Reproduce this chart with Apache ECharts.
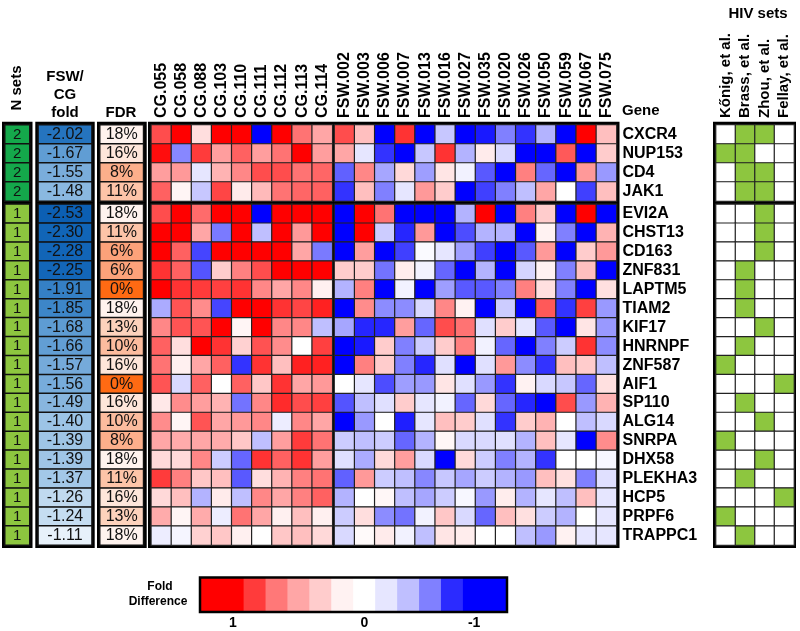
<!DOCTYPE html>
<html><head><meta charset="utf-8">
<script src="https://cdn.jsdelivr.net/npm/echarts@6/dist/echarts.min.js"></script>
<style>html,body{margin:0;padding:0;background:#fff}#c{width:800px;height:631px}</style>
</head><body><div id="c"></div>
<script>
const genes = ['CXCR4','NUP153','CD4','JAK1','EVI2A','CHST13','CD163','ZNF831','LAPTM5','TIAM2','KIF17','HNRNPF','ZNF587','AIF1','SP110','ALG14','SNRPA','DHX58','PLEKHA3','HCP5','PRPF6','TRAPPC1'];
const cgSamples = ['CG.055','CG.058','CG.088','CG.103','CG.110','CG.111','CG.112','CG.113','CG.114'];
const fswSamples = ['FSW.002','FSW.003','FSW.006','FSW.007','FSW.013','FSW.016','FSW.027','FSW.035','FSW.020','FSW.026','FSW.050','FSW.059','FSW.067','FSW.075'];
const hivStudies = ['Kőnig, et al.','Brass, et al.','Zhou, et al.','Fellay, et al.'];
const nSets = [2,2,2,2,1,1,1,1,1,1,1,1,1,1,1,1,1,1,1,1,1,1];
const foldChange = [-2.02,-1.67,-1.55,-1.48,-2.53,-2.30,-2.28,-2.25,-1.91,-1.85,-1.68,-1.66,-1.57,-1.56,-1.49,-1.40,-1.39,-1.39,-1.37,-1.26,-1.24,-1.11];
const fdrPct = [18,16,8,11,18,11,6,6,0,18,13,10,16,0,16,10,8,18,11,16,13,18];
const cgValues = [
 [0.7,1,0.13,1,1,-1,1,0.55,0.35],
 [0.95,-0.47,0.77,0.38,0.62,0.38,0.55,1,0.38],
 [0.38,0.4,-0.1,0.3,0.47,0.7,0.7,0.55,0.6],
 [0.62,0.04,-0.22,0.73,0.08,0.27,0.55,0.6,0.62],
 [0.7,1,0.58,1,1,-1,1,1,1],
 [1,1,0.35,-0.52,1,-0.25,1,0.4,1],
 [1,0.62,-0.73,1,1,1,1,0.35,-0.52],
 [0.8,0.62,-0.67,0.2,0.5,0.7,1,1,1],
 [1,0.8,0.77,0.75,0.8,0.47,0.35,0.47,0.06],
 [-0.33,0.67,0.45,-0.73,1,1,0.8,0.73,0.87],
 [0.47,0.67,0.67,1,0.04,1,0.47,0.47,-0.25],
 [0.62,0.13,1,0.8,0.18,0.68,0.45,0,0.75],
 [0.55,0.06,0.35,0.62,-0.8,0.8,0.25,0.87,0.87],
 [0.67,-0.15,0.62,0,0.62,0.22,0.8,0.35,0.4],
 [0.09,0.45,0.38,0.3,-0.55,0.47,0.83,0.7,0.75],
 [0.45,0.04,0.67,0.35,0.4,0.47,-0.07,0.47,0.35],
 [0.35,0.33,0.35,0.33,0.22,-0.25,0.38,0.77,0.55],
 [0.15,0.15,0.47,-0.2,-0.6,0.8,0.62,0.8,0.38],
 [0.77,0.5,0.22,0.25,-0.65,0.13,0.3,0.5,0.55],
 [0.15,0.25,-0.3,0.08,-0.25,0.47,0.35,0.5,0.62],
 [0.33,0.04,0.33,-0.07,0.55,0.35,0.06,0.25,0.06],
 [-0.07,-0.04,0.18,0.22,0.06,0,0.22,0.25,0.15]
];
const fswValues = [
 [0.7,0.25,-1,0.8,-1,-0.22,-1,-0.9,-0.5,-0.8,-0.3,-1,1,0.25],
 [0.35,-0.1,-0.8,-1,-0.22,0.8,-0.3,0.08,-0.15,-1,-1,0.65,-1,0.2],
 [-0.62,0.47,-0.35,0.15,-0.38,0.1,-0.05,-0.65,-1,0.5,-0.6,-1,0.4,-0.4],
 [-0.8,0.25,-0.5,-0.1,0.4,0.2,-1,-0.75,-0.5,-0.25,0.35,0,-0.75,0.25],
 [-1,1,0.55,-1,-1,-1,-0.3,1,-1,0.5,0.2,-1,1,-1],
 [-1,1,-0.2,-0.85,0.4,-1,-0.7,-0.3,-0.3,-1,0.05,-0.5,-1,0.3],
 [-1,0.38,-1,-0.75,-0.02,-0.1,-0.38,-0.75,-1,-0.65,0.4,-1,0.2,0.4],
 [0.2,0.2,-0.55,0.07,-0.05,-0.6,-1,-0.3,-1,-0.17,0.05,-0.5,0.25,-1],
 [-0.3,0.5,-1,-0.05,-1,-0.38,-0.65,-0.65,-0.5,0.5,0.12,-0.5,-1,0.12],
 [-1,0.45,-0.45,-0.45,-0.15,0.47,0.05,-1,-0.2,-1,0.65,-0.8,0.75,-0.4],
 [-0.35,-0.85,-0.85,0.38,-0.6,0.7,0.55,-0.12,0.2,-0.1,-0.65,-1,0.1,-0.4],
 [-1,-0.9,0.2,-0.5,-0.2,0.2,0.5,-0.05,-0.6,-1,-0.5,-0.2,0.8,-0.45],
 [-1,0.5,0.2,-0.5,-0.85,-0.12,-1,-0.12,0.4,-0.45,-0.8,0.25,0.2,-0.25],
 [0,-0.1,-0.7,-0.38,-0.4,0.1,-0.12,-0.4,-0.8,0.05,-0.15,-0.22,-0.6,0.12],
 [-0.67,-0.25,-0.12,0.2,-0.1,-0.05,-0.6,0.15,-0.6,-0.85,-1,0.7,-0.4,0.3],
 [-1,-0.4,0,-0.88,-0.1,0.25,0.2,-0.12,-0.8,0.2,0.3,0,-0.25,-0.15],
 [-0.2,-0.25,-0.2,-0.6,-0.3,0.03,-0.15,-0.15,-0.12,-0.3,0.25,-0.1,-1,0.45],
 [-0.12,-0.33,0.15,0.38,-0.15,-1,0.15,-0.2,-0.5,-0.3,-0.8,0,0,-0.03],
 [-0.62,0.4,-0.2,-0.25,-0.47,-0.22,-0.35,-0.2,-0.3,-0.4,0.25,0.12,-0.5,-0.12],
 [-0.3,0,0.03,-0.25,-0.35,-0.2,-0.03,-0.4,0.07,-0.3,-0.1,-0.25,0.25,-0.1],
 [-0.2,0.13,-0.45,-0.55,-0.05,0.22,-0.15,-0.6,0.25,0.12,-0.2,-0.3,0,-0.1],
 [-0.15,0.02,0.08,-0.05,-0.25,0.1,0.07,0,0,-0.25,-0.4,0.05,-0.1,-0.1]
];
const hivHits = [
 [0,1,1,0],[1,1,0,0],[0,1,1,0],[0,1,1,0],
 [0,0,1,0],[0,0,1,0],[0,0,1,0],[0,1,0,0],[0,1,0,0],[0,1,0,0],
 [0,0,1,0],[0,1,0,0],[1,0,0,0],[0,0,0,1],[0,1,0,0],[0,0,1,0],
 [1,0,0,0],[0,0,1,0],[0,1,0,0],[0,0,0,1],[1,0,0,0],[0,1,0,0]
];
const legendSlots = [1,1,0.77,0.53,0.35,0.2,0.05,0,-0.1,-0.25,-0.5,-0.83,-1,-1];
const legendTicks = ['','1','','','','','','0','','','','','-1',''];

const FONT = '"Liberation Sans", Arial, Helvetica, sans-serif';
const SPLIT = 4;
const groups = [
  {from:0, to:SPLIT, top:125, height:76},
  {from:SPLIT, to:genes.length, top:204.3, height:340.7}
];
const blocks = {
  n:    {left:5,     width:24.5},
  fold: {left:38.3,  width:53.4},
  fdr:  {left:100,   width:43.3},
  cg:   {left:151.3, width:181},
  fsw:  {left:334.5, width:282},
  hiv:  {left:716,   width:78}
};

const grids = [], xAxes = [], yAxes = [], series = [];
const seriesIdx = {};
function addBlock(key, cats, cellValue, o) {
  seriesIdx[key] = [];
  groups.forEach((g, gi) => {
    const gIndex = grids.length;
    grids.push({left: blocks[key].left, top: g.top, width: blocks[key].width, height: g.height, containLabel: false});
    xAxes.push({type:'category', data: cats, gridIndex: gIndex, position:'top',
      axisLine:{show:false}, axisTick:{show:false}, splitLine:{show:false},
      axisLabel:{show: !!o.xLabels && gi === 0, rotate:-90, margin:7, interval:0,
        fontFamily: FONT, fontWeight:'bold', fontSize: o.xFont || 16, color:'#000'}});
    const rows = genes.slice(g.from, g.to);
    yAxes.push({type:'category', data: rows, gridIndex: gIndex, inverse:true, position:'right',
      axisLine:{show:false}, axisTick:{show:false}, splitLine:{show:false},
      axisLabel:{show: !!o.yLabels, margin:6, interval:0, fontFamily: FONT, fontWeight:'bold', fontSize:16, color:'#000'}});
    const data = [];
    for (let r = g.from; r < g.to; r++) {
      for (let c = 0; c < cats.length; c++) data.push([c, r - g.from, cellValue(r, c)]);
    }
    seriesIdx[key].push(series.length);
    series.push({type:'heatmap', xAxisIndex: gIndex, yAxisIndex: gIndex, data,
      itemStyle:{borderColor: o.border || '#222', borderWidth: o.bw || 1.2},
      emphasis:{disabled:true},
      label: o.label ? {show:true, formatter: o.label, fontFamily: FONT, fontSize: o.labelFont || 16, color:'#111'} : {show:false}});
  });
}
addBlock('n', ['N sets'], r => nSets[r], {label: p => String(p.value[2]), labelFont:15, border:'#111', bw:1.5});
addBlock('fold', ['fold'], r => foldChange[r], {label: p => p.value[2].toFixed(2), border:'#111', bw:1.5});
addBlock('fdr', ['FDR'], r => fdrPct[r], {label: p => p.value[2] + '%', border:'#111', bw:1.5});
addBlock('cg', cgSamples, (r, c) => cgValues[r][c], {xLabels:true});
addBlock('fsw', fswSamples, (r, c) => fswValues[r][c], {xLabels:true, yLabels:true});
addBlock('hiv', hivStudies, (r, c) => hivHits[r][c], {xLabels:true, xFont:15});

// legend bar
const lg = grids.length;
grids.push({left:200, top:577.5, width:307, height:34.5, containLabel:false});
xAxes.push({type:'category', data: legendTicks.map((t,i)=>'s'+i), gridIndex: lg, position:'bottom',
  axisLine:{show:false}, axisTick:{show:false}, splitLine:{show:false},
  axisLabel:{show:true, interval:0, margin:4, formatter:(v, i) => legendTicks[i], fontFamily: FONT, fontWeight:'bold', fontSize:14, color:'#000'}});
yAxes.push({type:'category', data:['Fold Difference'], gridIndex: lg, axisLine:{show:false}, axisTick:{show:false}, axisLabel:{show:false}});
const legendSeries = series.length;
series.push({type:'heatmap', xAxisIndex: lg, yAxisIndex: lg, data: legendSlots.map((v,i)=>[i,0,v]),
  itemStyle:{borderWidth:0}, emphasis:{disabled:true}});

const black = (x1, x2) => ({type:'rect', z:0, shape:{x:x1, y:121.7, width:x2-x1, height:548-121.7}, style:{fill:'#000'}});
const txt = (text, x, y, font, extra) => Object.assign({type:'text', x, y, z:5,
  style:{text, font, fill:'#000', align:'center', verticalAlign:'middle'}}, extra || {});

const chart = echarts.init(document.getElementById('c'), null, {renderer:'canvas'});
chart.setOption({
  animation:false,
  backgroundColor:'#fff',
  grid: grids, xAxis: xAxes, yAxis: yAxes, series,
  visualMap: [
    {type:'continuous', show:false, min:-1, max:1, seriesIndex: seriesIdx.cg.concat(seriesIdx.fsw, [legendSeries]),
      inRange:{color:['#0000ff','#ffffff','#ff0000']}},
    {type:'continuous', show:false, min:-2.6, max:-1.1, seriesIndex: seriesIdx.fold,
      inRange:{color:['#0b5eb2','#0f63b6','#1a6bbb','#3d86c8','#6ea6d8','#a8cbe9','#eaf3fb']}},
    {type:'continuous', show:false, min:0, max:18, seriesIndex: seriesIdx.fdr,
      inRange:{color:['#ff6a13','#fd8a4a','#fca27a','#fcb594','#fdcbb2','#fee0d0','#fff3ee']}},
    {type:'piecewise', show:false, seriesIndex: seriesIdx.n,
      pieces:[{value:1, color:'#8dc63f'},{value:2, color:'#14a84b'}]},
    {type:'piecewise', show:false, seriesIndex: seriesIdx.hiv,
      pieces:[{value:0, color:'#ffffff'},{value:1, color:'#8dc63f'}]}
  ],
  graphic: [
    black(2, 32.5), black(35.3, 94.7), black(97, 146.7), black(148, 619.5), black(713, 796),
    {type:'rect', z:10, shape:{x:200, y:577.5, width:307, height:34.5}, style:{fill:'none', stroke:'#000', lineWidth:2.5}},
    txt('N sets', 17, 88, 'bold 15px ' + FONT, {rotation: Math.PI/2}),
    txt('FSW/', 65, 77, 'bold 15px ' + FONT),
    txt('CG', 65, 95, 'bold 15px ' + FONT),
    txt('fold', 65, 113, 'bold 15px ' + FONT),
    txt('FDR', 121, 113, 'bold 15px ' + FONT),
    {type:'text', x:622, y:111, z:5, style:{text:'Gene', font:'bold 15px ' + FONT, fill:'#000', align:'left', verticalAlign:'middle'}},
    txt('HIV sets', 758, 14, 'bold 15px ' + FONT),
    txt('Fold', 160, 587, 'bold 12px ' + FONT),
    txt('Difference', 158, 602, 'bold 12px ' + FONT)
  ]
});
</script>
</body></html>
